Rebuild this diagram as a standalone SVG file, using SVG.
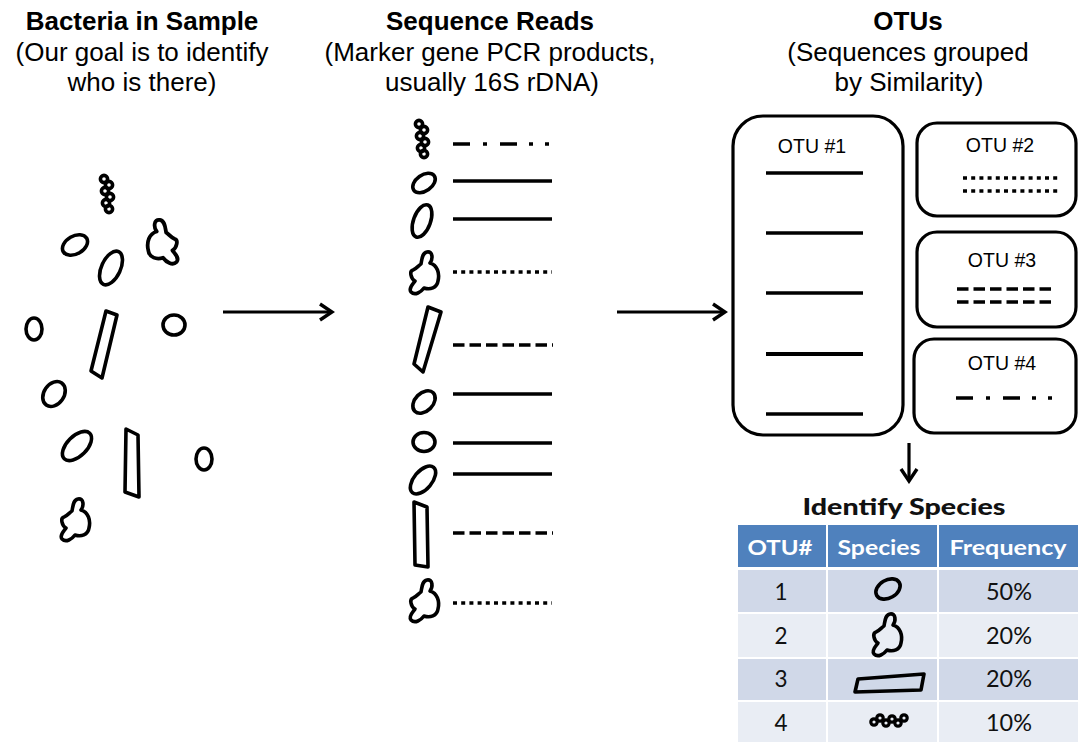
<svg xmlns="http://www.w3.org/2000/svg" width="1078" height="742" viewBox="0 0 1078 742">
  <style>
    .title { font-family: "Liberation Sans", Arial, sans-serif; font-size: 26px; font-weight: bold; fill: #000; text-anchor: middle; }
    .sub { font-family: "Liberation Sans", Arial, sans-serif; font-size: 26px; fill: #000; text-anchor: middle; }
    .otu { font-family: "Liberation Sans", Arial, sans-serif; font-size: 19.5px; fill: #000; text-anchor: middle; }
    .cell { stroke: none; }
    .thead { font-family: Lato, "Open Sans", sans-serif; font-size: 21px; font-weight: bold; fill: #fff; text-anchor: middle; }
    .tval { font-family: Lato, "Open Sans", sans-serif; font-size: 22.5px; fill: #111; text-anchor: middle; }
    .tcap { font-family: Lato, "Open Sans", sans-serif; font-size: 23px; font-weight: 900; fill: #111; text-anchor: middle; }
    .cellshape { fill: none; stroke: #000; stroke-width: 3.6; stroke-linejoin: round; stroke-linecap: round; }
    .box { fill: none; stroke: #000; stroke-width: 3.2; }
    .read { fill: none; stroke: #000; stroke-width: 3.4; }
    .dotted { stroke-dasharray: 4 4.2; }
    .dashed { stroke-dasharray: 11.5 5; }
    .dashdot { stroke-dasharray: 17 13 4 13 17 12 4 12 4 100; }
    .conn { fill: none; stroke: #000; stroke-width: 3.2; }
  </style>
  <defs>
    <!-- irregular amoeba-like outline -->
    <path id="blob" d="M 3,-21 C 9,-22 9,-14 6,-10 C 13,-8 16,0 14,8 C 13,15 6,17 0,15 C -3,19 -9,23 -13,19 C -16,15 -11,11 -9,8 C -13,6 -15,-2 -11,-3 C -8,-4 -5,-8 -3,-9 C -2,-14 -2,-20 3,-21 Z"/>
    <!-- short chain of small cocci -->
    <g id="beads">
      <circle cx="0" cy="0" r="3.6"/>
      <circle cx="5" cy="6" r="3.6"/>
      <circle cx="1" cy="12" r="3.6"/>
      <circle cx="6" cy="18" r="3.6"/>
      <circle cx="2" cy="24" r="3.6"/>
      <circle cx="5" cy="30" r="3.6"/>
    </g>
    <marker id="chev" markerUnits="userSpaceOnUse" markerWidth="18" markerHeight="22" refX="15" refY="11" orient="auto">
      <path d="M3,3 L15,11 L3,19" fill="none" stroke="#000" stroke-width="3.4" stroke-linejoin="miter"/>
    </marker>
  </defs>

  <rect width="1078" height="742" fill="#fff"/>

  <!-- column headings -->
  <g id="heading-sample">
    <text class="title" x="142" y="30">Bacteria in Sample</text>
    <text class="sub" x="142" y="61">(Our goal is to identify</text>
    <text class="sub" x="142" y="91">who is there)</text>
  </g>
  <g id="heading-reads">
    <text class="title" x="490" y="30">Sequence Reads</text>
    <text class="sub" x="490" y="61">(Marker gene PCR products,</text>
    <text class="sub" x="492" y="91">usually 16S rDNA)</text>
  </g>
  <g id="heading-otus">
    <text class="title" x="908" y="30">OTUs</text>
    <text class="sub" x="908" y="61">(Sequences grouped</text>
    <text class="sub" x="909" y="91">by Similarity)</text>
  </g>

  <!-- mixed bacteria in the sample -->
  <g id="sample" class="cellshape" fill="#fff">
    <use href="#beads" x="104" y="179"/>
    <ellipse cx="75" cy="245" rx="13.5" ry="9" transform="rotate(-30 75 245)"/>
    <use href="#blob" transform="translate(163 242) scale(-1.05 1.05)"/>
    <ellipse cx="111" cy="268" rx="9.5" ry="18" transform="rotate(25 111 268)"/>
    <ellipse cx="34" cy="329" rx="8" ry="11"/>
    <polygon points="106,311 117,315 102,378 91,371"/>
    <ellipse cx="174" cy="325" rx="11" ry="10"/>
    <ellipse cx="54" cy="394" rx="10" ry="13.5" transform="rotate(35 54 394)"/>
    <ellipse cx="77" cy="446" rx="10" ry="18" transform="rotate(45 77 446)"/>
    <polygon points="126,429 138,435 139,497 125,492"/>
    <ellipse cx="204" cy="459" rx="8" ry="11"/>
    <use href="#blob" transform="translate(75 520)"/>
  </g>

  <!-- one read per cell -->
  <g id="reads-cells" class="cellshape" fill="#fff">
    <use href="#beads" x="419" y="124"/>
    <ellipse cx="424" cy="183" rx="12.5" ry="8" transform="rotate(-35 424 183)"/>
    <ellipse cx="422" cy="221" rx="8.5" ry="17" transform="rotate(20 422 221)"/>
    <use href="#blob" transform="translate(424 273)"/>
    <polygon points="428,307 441,312 423,372 414,364"/>
    <ellipse cx="424" cy="402" rx="13" ry="9" transform="rotate(-45 424 402)"/>
    <ellipse cx="424" cy="442" rx="11" ry="9.5"/>
    <ellipse cx="423" cy="480" rx="9" ry="16.5" transform="rotate(40 423 480)"/>
    <polygon points="414,502 427,507 428,567 415,565"/>
    <use href="#blob" transform="translate(424 601)"/>
  </g>
  <g id="reads-lines" class="read">
    <line class="dashdot" x1="453" y1="144" x2="552" y2="144"/>
    <line x1="453" y1="181" x2="552" y2="181"/>
    <line x1="453" y1="219" x2="552" y2="219"/>
    <line class="dotted" x1="453" y1="272" x2="552" y2="272"/>
    <line class="dashed" x1="453" y1="345" x2="553" y2="345"/>
    <line x1="453" y1="394" x2="552" y2="394"/>
    <line x1="453" y1="443" x2="552" y2="443"/>
    <line x1="453" y1="474" x2="552" y2="474"/>
    <line class="dashed" x1="453" y1="533" x2="553" y2="533"/>
    <line class="dotted" x1="453" y1="603" x2="552" y2="603"/>
  </g>

  <!-- OTU clusters -->
  <g id="otu1">
    <rect class="box" x="733" y="116" width="170" height="319" rx="30"/>
    <text class="otu" x="812" y="153">OTU #1</text>
    <g class="read">
      <line x1="766" y1="173" x2="863" y2="173"/>
      <line x1="766" y1="233" x2="863" y2="233"/>
      <line x1="766" y1="293" x2="863" y2="293"/>
      <line x1="766" y1="354" x2="863" y2="354" stroke-width="4"/>
      <line x1="766" y1="414" x2="863" y2="414"/>
    </g>
  </g>
  <g id="otu2">
    <rect class="box" x="917" y="123" width="159" height="93" rx="20"/>
    <text class="otu" x="1000" y="152">OTU #2</text>
    <g class="read dotted">
      <line x1="963" y1="178" x2="1060" y2="178"/>
      <line x1="963" y1="191" x2="1060" y2="191"/>
    </g>
  </g>
  <g id="otu3">
    <rect class="box" x="917" y="232" width="159" height="95" rx="20"/>
    <text class="otu" x="1002" y="267">OTU #3</text>
    <g class="read dashed">
      <line x1="957" y1="289" x2="1054" y2="289"/>
      <line x1="957" y1="302" x2="1054" y2="302"/>
    </g>
  </g>
  <g id="otu4">
    <rect class="box" x="914" y="339" width="162" height="94" rx="20"/>
    <text class="otu" x="1002" y="370">OTU #4</text>
    <line class="read dashdot" x1="956" y1="398" x2="1055" y2="398"/>
  </g>

  <!-- connectors -->
  <g id="connectors" class="conn">
    <line x1="223" y1="312" x2="332" y2="312" marker-end="url(#chev)"/>
    <line x1="617" y1="312" x2="725" y2="312" marker-end="url(#chev)"/>
    <line x1="909" y1="443" x2="909" y2="481" marker-end="url(#chev)"/>
  </g>

  <!-- species table -->
  <g id="species-table">
    <text class="tcap" x="904" y="515" textLength="203" lengthAdjust="spacingAndGlyphs">Identify Species</text>
    <rect class="cell" x="738" y="525" width="88" height="42" fill="#4f81bd"/>
    <rect class="cell" x="828" y="525" width="109" height="42" fill="#4f81bd"/>
    <rect class="cell" x="939" y="525" width="139" height="42" fill="#4f81bd"/>
    <rect class="cell" x="738" y="570" width="88" height="42" fill="#d0d8e8"/>
    <rect class="cell" x="828" y="570" width="109" height="42" fill="#d0d8e8"/>
    <rect class="cell" x="939" y="570" width="139" height="42" fill="#d0d8e8"/>
    <rect class="cell" x="738" y="614" width="88" height="43" fill="#e9edf4"/>
    <rect class="cell" x="828" y="614" width="109" height="43" fill="#e9edf4"/>
    <rect class="cell" x="939" y="614" width="139" height="43" fill="#e9edf4"/>
    <rect class="cell" x="738" y="659" width="88" height="41" fill="#d0d8e8"/>
    <rect class="cell" x="828" y="659" width="109" height="41" fill="#d0d8e8"/>
    <rect class="cell" x="939" y="659" width="139" height="41" fill="#d0d8e8"/>
    <rect class="cell" x="738" y="702" width="88" height="40" fill="#e9edf4"/>
    <rect class="cell" x="828" y="702" width="109" height="40" fill="#e9edf4"/>
    <rect class="cell" x="939" y="702" width="139" height="40" fill="#e9edf4"/>

    <text class="thead" x="780" y="555" textLength="65" lengthAdjust="spacingAndGlyphs">OTU#</text>
    <text class="thead" x="879" y="555" textLength="83" lengthAdjust="spacingAndGlyphs">Species</text>
    <text class="thead" x="1008" y="555" textLength="117" lengthAdjust="spacingAndGlyphs">Frequency</text>

    <text class="tval" x="781" y="600">1</text>
    <text class="tval" x="781" y="644">2</text>
    <text class="tval" x="781" y="687">3</text>
    <text class="tval" x="781" y="731">4</text>
    <text class="tval" x="1009" y="600" textLength="46" lengthAdjust="spacingAndGlyphs">50%</text>
    <text class="tval" x="1009" y="644" textLength="46" lengthAdjust="spacingAndGlyphs">20%</text>
    <text class="tval" x="1009" y="687" textLength="46" lengthAdjust="spacingAndGlyphs">20%</text>
    <text class="tval" x="1009" y="731" textLength="46" lengthAdjust="spacingAndGlyphs">10%</text>

    <g class="cellshape">
      <ellipse cx="888" cy="589" rx="13" ry="9" transform="rotate(-30 888 589)"/>
      <use href="#blob" transform="translate(887 635)"/>
      <polygon points="858,679 924,674 921,690 855,692"/>
      <g stroke-width="3.2">
        <circle cx="874" cy="722" r="3.2"/>
        <circle cx="880" cy="718" r="3.2"/>
        <circle cx="886" cy="723" r="3.2"/>
        <circle cx="892" cy="719" r="3.2"/>
        <circle cx="898" cy="723" r="3.2"/>
        <circle cx="904" cy="718" r="3.2"/>
      </g>
    </g>
  </g>
</svg>
